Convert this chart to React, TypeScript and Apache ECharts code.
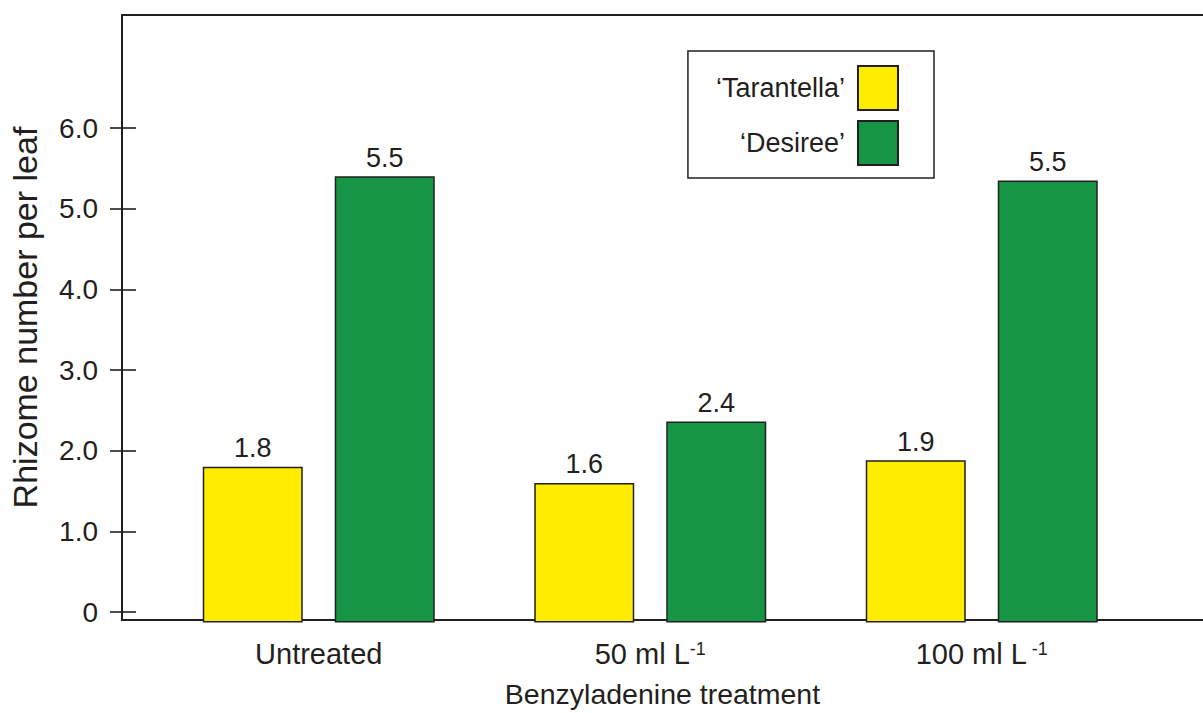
import React, { useEffect, useRef } from "react";
import * as echarts from "echarts";

const categories = ["Untreated", "50 ml L", "100 ml L"];
const categorySuperscripts = ["", "-1", " -1"];
const tarantella = [1.8, 1.6, 1.88];
const desiree = [5.4, 2.36, 5.35];
const tarantellaLabels = ["1.8", "1.6", "1.9"];
const desireeLabels = ["5.5", "2.4", "5.5"];
const yTickLabels = ["0", "1.0", "2.0", "3.0", "4.0", "5.0", "6.0"];
const seriesNames = ["\u2018Tarantella\u2019", "\u2018Desiree\u2019"];

const FONT = '"Liberation Sans", Arial, Helvetica, sans-serif';
const INK = "#231f20";
const YELLOW = "#ffed00";
const GREEN = "#169645";

export default function App() {
  const ref = useRef<HTMLDivElement>(null);
  useEffect(() => {
    if (!ref.current) return;
    const chart = echarts.init(ref.current, null, { renderer: "svg" });
    const line = { show: true, onZero: false, lineStyle: { color: INK, width: 2 } };
    const tickStyle = { color: INK, width: 1.6 };
    chart.setOption({
      animation: false,
      backgroundColor: "#ffffff",
      textStyle: { fontFamily: FONT, color: INK },
      legend: {
        data: seriesNames,
        orient: "vertical",
        align: "right",
        right: 269,
        top: 51,
        padding: [14, 35, 12, 28],
        borderColor: INK,
        borderWidth: 1.5,
        itemWidth: 40,
        itemHeight: 44,
        itemGap: 9,
        selectedMode: false,
        icon: "rect",
        textStyle: { fontSize: 27, color: INK, fontFamily: FONT, padding: [0, 8, 0, 0] },
      },
      grid: [
        { left: 122, right: 0, top: 15, bottom: 90.5 },
        { left: 153, width: 994.5, top: 15, bottom: 90.5 },
        { left: 122, right: 0, top: 128, bottom: 101 },
      ],
      xAxis: [
        {
          gridIndex: 0,
          type: "value",
          min: 0,
          max: 1,
          position: "bottom",
          axisLine: line,
          axisTick: { show: false },
          axisLabel: { show: false },
          splitLine: { show: false },
          name: "Benzyladenine treatment",
          nameLocation: "middle",
          nameGap: 59,
          nameTextStyle: { fontSize: 28.5, color: INK, fontFamily: FONT },
        },
        {
          gridIndex: 0,
          type: "value",
          min: 0,
          max: 1,
          position: "top",
          axisLine: line,
          axisTick: { show: false },
          axisLabel: { show: false },
          splitLine: { show: false },
        },
        {
          gridIndex: 1,
          type: "category",
          data: categories,
          axisLine: { show: false },
          axisTick: { show: false },
          splitLine: { show: false },
          axisLabel: {
            margin: 17,
            fontSize: 29,
            color: INK,
            fontFamily: FONT,
            formatter: (v: string, i: number) =>
              categorySuperscripts[i] ? `${v}{sup|${categorySuperscripts[i]}}` : v,
            rich: {
              sup: { fontSize: 18, verticalAlign: "top", color: INK, fontFamily: FONT },
            },
          },
        },
        { gridIndex: 2, type: "value", show: false, min: 0, max: 1 },
      ],
      yAxis: [
        {
          gridIndex: 0,
          type: "value",
          min: -0.13,
          max: 7.4,
          position: "left",
          axisLine: line,
          axisTick: { show: false },
          axisLabel: { show: false },
          splitLine: { show: false },
          name: "Rhizome number per leaf",
          nameLocation: "middle",
          nameGap: 80,
          nameRotate: 90,
          nameTextStyle: { fontSize: 34, color: INK, fontFamily: FONT },
        },
        {
          gridIndex: 1,
          type: "value",
          min: -0.13,
          max: 7.4,
          startValue: -0.13,
          show: false,
        },
        {
          gridIndex: 2,
          type: "value",
          min: 0,
          max: 6,
          interval: 1,
          position: "left",
          offset: -14,
          axisLine: { show: false },
          axisTick: { show: true, length: 26, lineStyle: tickStyle },
          axisLabel: {
            margin: 38,
            fontSize: 28,
            color: INK,
            fontFamily: FONT,
            formatter: (v: number) => yTickLabels[Math.round(v)] ?? "",
          },
          splitLine: { show: false },
        },
      ],
      series: [
        {
          name: seriesNames[0],
          type: "bar",
          xAxisIndex: 2,
          yAxisIndex: 1,
          data: tarantella,
          barWidth: 100,
          barGap: "32%",
          itemStyle: { color: YELLOW, borderColor: INK, borderWidth: 1.5 },
          label: {
            show: true,
            position: "top",
            fontSize: 27,
            color: INK,
            fontFamily: FONT,
            formatter: (p: any) => tarantellaLabels[p.dataIndex],
          },
        },
        {
          name: seriesNames[1],
          type: "bar",
          xAxisIndex: 2,
          yAxisIndex: 1,
          data: desiree,
          barWidth: 100,
          barGap: "32%",
          itemStyle: { color: GREEN, borderColor: INK, borderWidth: 1.5 },
          label: {
            show: true,
            position: "top",
            fontSize: 27,
            color: INK,
            fontFamily: FONT,
            formatter: (p: any) => desireeLabels[p.dataIndex],
          },
        },
      ],
    });
    return () => chart.dispose();
  }, []);
  return (
    <div
      ref={ref}
      style={{ position: "fixed", left: 0, top: 0, width: 1203, height: 713, background: "#fff" }}
    />
  );
}
